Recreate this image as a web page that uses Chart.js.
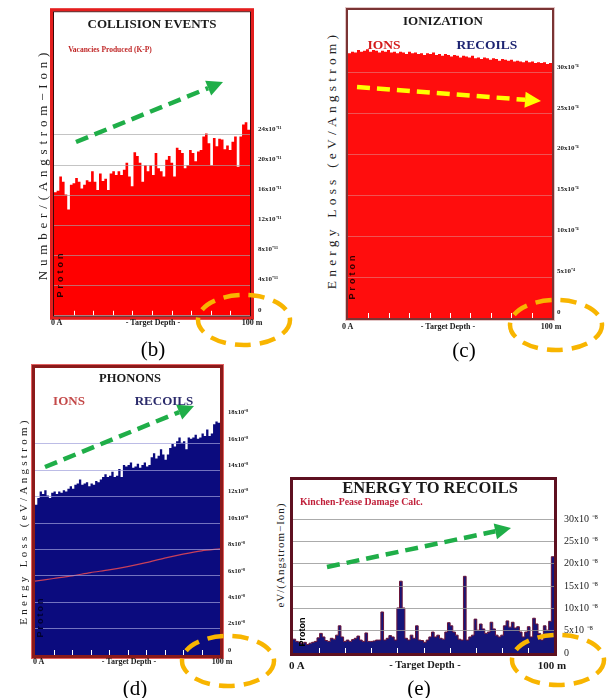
<!DOCTYPE html>
<html><head><meta charset="utf-8">
<script src="https://cdn.jsdelivr.net/npm/chart.js@4.4.1/dist/chart.umd.min.js"></script>
<style>
html,body{margin:0;padding:0;background:#fff;}
#wrap{position:relative;width:612px;height:698px;overflow:hidden;background:#fff;}
canvas{position:absolute;}
.t{position:absolute;white-space:nowrap;font-family:'Liberation Serif','Times New Roman',serif;font-weight:bold;line-height:1;transform:translate(-50%,-50%);color:#1a1a1a;z-index:2;}
.t.l{transform:translate(0,-50%);}
.t.v{transform:translate(-50%,-50%) rotate(-90deg);}
svg{position:absolute;left:0;top:0;z-index:3;}
</style></head>
<body><div id="wrap">
<canvas id="cb"></canvas>
<canvas id="cc"></canvas>
<canvas id="cd"></canvas>
<canvas id="ce"></canvas>

<!-- (b) -->
<div class="t" style="left:152px;top:23px;font-size:13px">COLLISION EVENTS</div>
<div class="t" style="left:110px;top:50px;font-size:7.5px;color:#c02828">Vacancies Produced (K-P)</div>
<div class="t v" style="left:42px;top:164px;font-size:13px;font-weight:normal;letter-spacing:4.8px;color:#222">Number/(Angstrom−Ion)</div>
<div class="t v" style="left:60px;top:274px;font-family:'Liberation Sans',sans-serif;font-size:9px;letter-spacing:3px;color:#2a0000">Proton</div>
<div class="t l" style="left:51px;top:323px;font-size:8px">0 A</div>
<div class="t" style="left:153px;top:323px;font-size:8px">- Target Depth -</div>
<div class="t" style="left:252px;top:323px;font-size:8px">100 m</div>
<div class="t" style="left:153px;top:349px;font-size:21px;font-weight:normal;color:#000">(b)</div>

<!-- (c) -->
<div class="t" style="left:443px;top:20px;font-size:13px">IONIZATION</div>
<div class="t" style="left:384px;top:45px;font-size:13.5px;color:#d41a1a">IONS</div>
<div class="t" style="left:487px;top:45px;font-size:13.5px;color:#1d2472">RECOILS</div>
<div class="t v" style="left:332px;top:160px;font-size:13.5px;font-weight:normal;letter-spacing:4.2px;color:#222">Energy Loss (eV/Angstrom)</div>
<div class="t v" style="left:352px;top:276px;font-family:'Liberation Sans',sans-serif;font-size:9px;letter-spacing:3px;color:#300">Proton</div>
<div class="t l" style="left:342px;top:327px;font-size:8px">0 A</div>
<div class="t" style="left:448px;top:327px;font-size:8px">- Target Depth -</div>
<div class="t" style="left:551px;top:327px;font-size:8px">100 m</div>
<div class="t" style="left:464px;top:350px;font-size:21px;font-weight:normal;color:#000">(c)</div>

<!-- (d) -->
<div class="t" style="left:130px;top:378px;font-size:12.5px">PHONONS</div>
<div class="t" style="left:69px;top:400px;font-size:13px;color:#c44a4a">IONS</div>
<div class="t" style="left:164px;top:400px;font-size:13px;color:#2b2b6b">RECOILS</div>
<div class="t v" style="left:23px;top:521px;font-size:11px;font-weight:normal;letter-spacing:3.3px;color:#222">Energy Loss (eV/Angstrom)</div>
<div class="t v" style="left:40px;top:617px;font-family:'Liberation Sans',sans-serif;font-size:9px;letter-spacing:2px;color:#000030">Proton</div>
<div class="t l" style="left:33px;top:662px;font-size:8px">0 A</div>
<div class="t" style="left:129px;top:662px;font-size:8px">- Target Depth -</div>
<div class="t" style="left:222px;top:662px;font-size:8px">100 m</div>
<div class="t" style="left:135px;top:688px;font-size:21px;font-weight:normal;color:#000">(d)</div>

<!-- (e) -->
<div class="t" style="left:430px;top:488px;font-size:16.5px">ENERGY TO RECOILS</div>
<div class="t l" style="left:300px;top:502px;font-size:9.8px;color:#c0203a">Kinchen-Pease Damage Calc.</div>
<div class="t v" style="left:280px;top:555px;font-size:11px;font-weight:normal;letter-spacing:1px;color:#222">eV/(Angstrom−Ion)</div>
<div class="t v" style="left:302px;top:632px;font-family:'Liberation Sans',sans-serif;font-size:9px;color:#000">Proton</div>
<div class="t l" style="left:289px;top:665px;font-size:11px">0 A</div>
<div class="t" style="left:425px;top:665px;font-size:10.5px">- Target Depth -</div>
<div class="t" style="left:552px;top:665px;font-size:11px">100 m</div>
<div class="t" style="left:419px;top:688px;font-size:21px;font-weight:normal;color:#000">(e)</div>

<svg id="ann" width="612" height="698"></svg>
</div>
<script>
// ---------------- DATA ----------------
const depthRange = [0, 100];
const depthTicks = [0, 10, 20, 30, 40, 50, 60, 70, 80, 90, 100];

// (b) Collision events: vacancies produced (x10^-11 /(Angstrom-Ion))
const collisionValues = [16.4,16.6,18.5,17.8,16.1,14.1,17.4,17.6,18.3,17.8,16.9,17.4,18.0,17.8,19.2,17.8,16.7,18.9,17.9,18.2,16.7,18.9,19.2,18.7,19.2,18.7,19.4,20.3,18.5,17.2,21.7,21.2,20.3,17.8,20.0,19.2,20.0,18.7,21.6,19.6,19.2,18.5,20.7,21.2,20.3,18.5,22.3,22.0,21.6,19.6,20.0,22.0,21.6,20.5,21.8,22.0,23.8,24.2,22.9,20.0,23.6,22.5,23.5,23.4,22.1,22.6,22.0,23.1,23.8,19.8,23.8,25.4,25.7,24.7];
const collisionTicks = [0, 4, 8, 12, 16, 20, 24];

// (c) Ionization energy loss (x10^-4 eV/Angstrom)
const ionizationValues = [32.4,32.6,32.5,32.8,32.6,32.7,32.9,32.6,32.8,32.7,32.5,32.7,32.6,32.8,32.5,32.6,32.4,32.6,32.5,32.3,32.6,32.4,32.5,32.3,32.4,32.2,32.4,32.3,32.5,32.2,32.3,32.1,32.3,32.2,32.0,32.2,32.1,31.9,32.1,32.0,31.9,32.1,31.8,31.9,31.7,31.9,31.8,31.6,31.8,31.7,31.5,31.7,31.6,31.5,31.6,31.4,31.5,31.4,31.3,31.5,31.3,31.4,31.2,31.3,31.2,31.3,31.1,31.2];
const ionizationTicks = [0, 5, 10, 15, 20, 25, 30];

// (d) Phonons (x10^-8 eV/Angstrom)
const phononRecoilValues = [11.4,11.9,12.4,12.2,12.5,12.1,11.9,12.3,12.4,12.2,12.4,12.3,12.5,12.4,12.6,12.8,12.6,12.9,13.0,13.3,12.9,13.0,13.1,12.8,13.0,12.9,13.2,13.1,13.3,13.5,13.7,13.5,13.6,13.9,13.5,13.6,14.1,13.5,14.4,14.3,14.4,14.6,14.2,14.3,14.5,14.2,14.4,14.6,14.3,14.4,15.0,15.3,14.9,15.1,15.6,15.2,14.8,15.2,15.7,16.0,15.8,16.2,16.5,16.1,16.2,15.6,16.5,16.4,16.5,16.7,16.4,16.5,16.8,16.6,17.1,16.6,16.8,17.5,17.7,17.6];
const phononIonDepth = [0, 10, 20, 30, 40, 50, 60, 70, 80, 90, 100];
const phononIonValues = [5.6, 5.8, 6.0, 6.25, 6.45, 6.7, 7.0, 7.35, 7.65, 7.9, 8.05];
const phononTicks = [0, 2, 4, 6, 8, 10, 12, 14, 16, 18];

// (e) Energy to recoils (x10^-8 eV/(Angstrom-Ion))
const recoilEnergyValues = [3.1,2.6,2.4,2.1,2.4,1.9,2.2,2.4,2.6,3.4,4.4,3.6,2.8,2.6,3.3,3.1,4.0,6.1,3.6,2.6,2.9,2.6,3.0,3.3,3.8,2.9,2.6,4.5,2.6,2.6,2.7,2.9,2.9,9.2,2.9,3.3,3.9,3.6,2.9,10.1,16.1,10.1,3.3,2.9,4.0,3.3,6.1,2.9,2.8,2.4,2.9,3.6,4.7,3.6,4.0,3.3,3.1,4.7,6.8,6.1,4.7,4.0,3.1,2.9,17.2,2.9,3.6,4.0,7.6,5.1,6.5,5.4,4.4,4.7,6.9,5.4,4.0,3.6,4.0,6.1,7.2,5.8,6.9,5.6,5.9,4.7,3.6,4.7,5.9,3.6,7.8,6.5,4.4,2.9,6.1,5.1,7.1,21.6];
const recoilTicks = [0, 5, 10, 15, 20, 25, 30];

// ---------------- HELPERS ----------------
function toSteps(vals){
  const n = vals.length, span = depthRange[1] - depthRange[0];
  const pts = vals.map((v, i) => ({x: depthRange[0] + span * i / n, y: v}));
  pts.push({x: depthRange[1], y: vals[n - 1]});
  return pts;
}

const framePlugin = {
  id: 'frame',
  afterDraw(chart, args, o){
    const {ctx, chartArea: a} = chart;
    ctx.save();
    let off = 0;
    const layers = [[o.innerColor, o.innerWidth], [o.outerColor, o.outerWidth]];
    layers.forEach(([c, w]) => {
      if (!w) return;
      ctx.strokeStyle = c; ctx.lineWidth = w;
      ctx.strokeRect(a.left - off - w/2, a.top - off - w/2, a.right - a.left + 2*off + w, a.bottom - a.top + 2*off + w);
      off += w;
    });
    ctx.restore();
  }
};

const depthTickPlugin = {
  id: 'depthTicks',
  afterDatasetsDraw(chart, args, o){
    const {ctx, chartArea: a, scales: {x}} = chart;
    ctx.save();
    ctx.strokeStyle = o.color; ctx.lineWidth = 1;
    depthTicks.forEach(v => {
      if (v <= x.min || v >= x.max) return;
      const px = Math.round(x.getPixelForValue(v)) + 0.5;
      ctx.beginPath(); ctx.moveTo(px, a.bottom); ctx.lineTo(px, a.bottom - o.len); ctx.stroke();
    });
    ctx.restore();
  }
};

function panel(id, g, datasets){
  const cv = document.getElementById(id);
  const padL = 6, padT = 12, padB = 12;
  const w = g.R - g.L + padL + g.axisW, h = g.B - g.T + padT + padB;
  cv.width = w; cv.height = h;
  cv.style.left = (g.L - padL) + 'px'; cv.style.top = (g.T - padT) + 'px';
  cv.style.width = w + 'px'; cv.style.height = h + 'px';
  return new Chart(cv, {
    type: 'line',
    data: {datasets},
    options: {
      responsive: false, animation: false, devicePixelRatio: 1,
      layout: {padding: {left: padL, top: padT, bottom: padB, right: 0}},
      plugins: {
        legend: {display: false}, tooltip: {enabled: false},
        frame: g.frame,
        depthTicks: {color: '#ffffff', len: 5}
      },
      scales: {
        x: {type: 'linear', min: depthRange[0], max: depthRange[1], display: false},
        y: {
          position: 'right', min: 0, max: g.yMax,
          afterFit(s){ s.width = g.axisW; },
          afterBuildTicks(s){ s.ticks = g.ticks.map(v => ({value: v})); },
          grid: {color: g.gridColor, drawTicks: false, z: 1, lineWidth: 1},
          border: {display: false},
          ticks: {
            padding: g.tickPad, labelOffset: g.labelOffset, color: '#222',
            font: {family: "'Liberation Serif', serif", size: g.tickSize, weight: g.tickWeight},
            callback: v => v === 0 ? '0' : v + g.suffix
          }
        }
      }
    },
    plugins: [framePlugin, depthTickPlugin]
  });
}

// (b)
panel('cb', {L: 54, T: 12, R: 250, B: 316, axisW: 50, yMax: 40.3, ticks: collisionTicks,
  gridColor: 'rgba(165,165,165,0.65)', tickPad: 8, labelOffset: -6, tickSize: 7, tickWeight: 'bold', suffix: 'x10⁻¹¹',
  frame: {innerColor: '#3a0a0a', innerWidth: 1, outerColor: '#e41e1e', outerWidth: 3}},
  [{data: toSteps(collisionValues), stepped: true, fill: 'origin', backgroundColor: '#ff0000', borderColor: 'rgba(0,0,0,0)', borderWidth: 0, pointRadius: 0}]);

// (c)
panel('cc', {L: 348, T: 10, R: 552, B: 318, axisW: 60, yMax: 37.7, ticks: ionizationTicks,
  gridColor: 'rgba(215,190,190,0.4)', tickPad: 5, labelOffset: -6, tickSize: 7, tickWeight: 'bold', suffix: 'x10⁻⁴',
  frame: {innerColor: '#7a3434', innerWidth: 2, outerColor: 'rgba(200,140,140,0.5)', outerWidth: 1}},
  [{data: toSteps(ionizationValues), stepped: true, fill: 'origin', backgroundColor: '#ff0d0d', borderColor: 'rgba(0,0,0,0)', borderWidth: 0, pointRadius: 0}]);

// (d)
panel('cd', {L: 35, T: 368, R: 220, B: 655, axisW: 50, yMax: 21.76, ticks: phononTicks,
  gridColor: c => (c.tick && c.tick.value > 16) ? 'rgba(0,0,0,0)' : 'rgba(160,160,220,0.7)',
  tickPad: 8, labelOffset: -5, tickSize: 6.5, tickWeight: 'bold', suffix: 'x10⁻⁸',
  frame: {innerColor: '#8b1a1a', innerWidth: 3, outerColor: '#e06060', outerWidth: 1}},
  [
    {data: phononIonDepth.map((d, i) => ({x: d, y: phononIonValues[i]})), borderColor: '#c8405a', borderWidth: 1.2, fill: false, pointRadius: 0, tension: 0.3},
    {data: toSteps(phononRecoilValues), stepped: true, fill: 'origin', backgroundColor: '#0b0b7e', borderColor: 'rgba(0,0,0,0)', borderWidth: 0, pointRadius: 0}
  ]);

// (e)
panel('ce', {L: 293, T: 476, R: 554, B: 657, axisW: 58, yMax: 38.8, ticks: recoilTicks,
  gridColor: 'rgba(150,150,150,0.8)', tickPad: 10, labelOffset: 0, tickSize: 10, tickWeight: 'normal', suffix: 'x10 ⁻⁸',
  frame: {innerColor: '#5e1020', innerWidth: 3, outerColor: '#000', outerWidth: 0}},
  [{data: toSteps(recoilEnergyValues), stepped: true, fill: 'origin', backgroundColor: '#15157a', borderColor: '#6a1438', borderWidth: 1, pointRadius: 0}]);

// ---------------- ANNOTATIONS ----------------
const NS = 'http://www.w3.org/2000/svg';
const svg = document.getElementById('ann');
function el(name, attrs){ const e = document.createElementNS(NS, name); for (const k in attrs) e.setAttribute(k, attrs[k]); svg.appendChild(e); return e; }
function arrow(sx, sy, tx, ty, color){
  const dx = tx - sx, dy = ty - sy, len = Math.hypot(dx, dy), ux = dx/len, uy = dy/len;
  const hl = 16, hw = 8, bx = tx - ux*hl, by = ty - uy*hl;
  el('line', {x1: sx, y1: sy, x2: bx, y2: by, stroke: color, 'stroke-width': 4.5, 'stroke-dasharray': '13 7'});
  el('polygon', {points: `${tx},${ty} ${bx - uy*hw},${by + ux*hw} ${bx + uy*hw},${by - ux*hw}`, fill: color});
}
function ring(cx, cy){
  el('ellipse', {cx, cy, rx: 46, ry: 25, fill: 'none', stroke: '#f8b500', 'stroke-width': 4.5, 'stroke-dasharray': '16 9'});
}
arrow(76, 142, 223, 82, '#1fae48');
arrow(357, 87, 541, 101, '#ffff00');
arrow(45, 467, 194, 406, '#1fae48');
arrow(327, 567, 511, 528, '#1fae48');
ring(244, 320); ring(556, 325); ring(228, 661); ring(558, 660);
</script>
</body></html>
